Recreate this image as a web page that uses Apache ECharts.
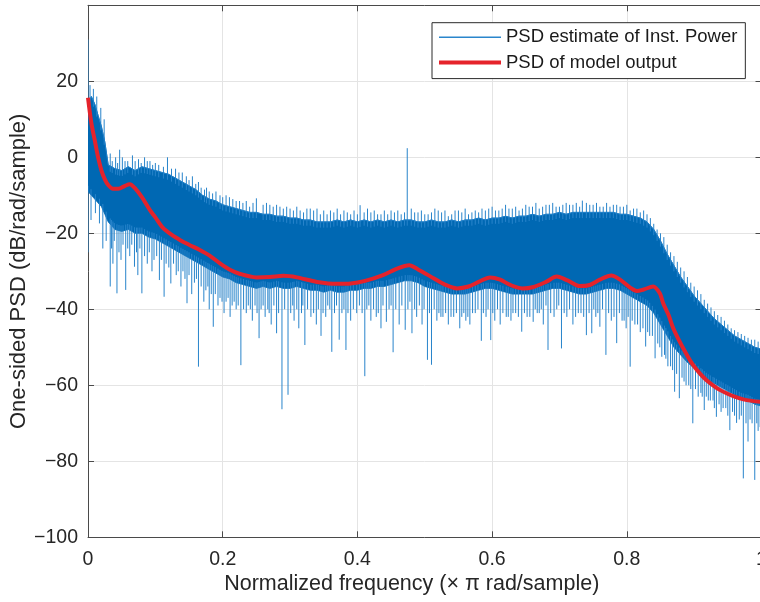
<!DOCTYPE html>
<html><head><meta charset="utf-8">
<script src="https://cdn.jsdelivr.net/npm/echarts@6/dist/echarts.min.js"></script>
<style>html,body{margin:0;padding:0;background:#fff}#c{width:760px;height:602px}</style>
</head><body><div id="c"></div>
<script>
// ---- data ----
const bandFreq = [0,0.005,0.01,0.015,0.02,0.025,0.03,0.04,0.05,0.06,0.07,0.08,0.09,0.10,0.11,0.12,0.13,0.14,0.15,0.16,0.17,0.18,0.19,0.20,0.21,0.22,0.23,0.24,0.25,0.26,0.27,0.28,0.29,0.30,0.31,0.32,0.33,0.34,0.35,0.36,0.37,0.38,0.39,0.40,0.41,0.42,0.43,0.44,0.45,0.46,0.47,0.48,0.49,0.50,0.51,0.52,0.53,0.54,0.55,0.56,0.57,0.58,0.59,0.60,0.61,0.62,0.63,0.64,0.65,0.66,0.67,0.68,0.69,0.70,0.71,0.72,0.73,0.74,0.75,0.76,0.77,0.78,0.79,0.80,0.81,0.82,0.83,0.84,0.85,0.86,0.87,0.88,0.89,0.90,0.91,0.92,0.93,0.94,0.95,0.96,0.97,0.98,0.99,1.00];
const bandTop = [14,16,14,11,8,4,-2,-3,-3.5,-2.5,-3.5,-2.5,-3,-3.5,-4,-4.5,-5.5,-6.5,-7.5,-8.5,-10,-11,-11.5,-12.5,-13,-13.5,-14,-14.5,-14.5,-15,-15,-15.5,-15.5,-16,-16,-16.5,-16.5,-17,-17,-17,-16.5,-17,-16.5,-17,-16.5,-17,-16.5,-17,-16.5,-17,-16.5,-16.5,-17,-17,-16.5,-17,-17,-16.5,-17,-16.5,-16.5,-16,-16.5,-16,-16,-15.5,-16,-15.5,-15.5,-15,-15.5,-15,-15,-14.5,-15,-14.5,-14.5,-14.5,-14.5,-14.5,-14.5,-14.5,-15,-15,-15.5,-16,-17,-19,-22,-25.5,-28.5,-31.5,-34,-36.5,-38.5,-40.5,-42.5,-44,-45.5,-47,-48,-49,-50,-50.5];
const bandBottom = [-9,-10,-11,-12,-13,-15,-17,-19,-19.5,-19,-20,-20,-21,-21.5,-22.5,-23.5,-24.5,-25.5,-26.5,-27.5,-28.5,-29.5,-30.5,-31.5,-32,-33,-33.5,-34,-34.5,-34,-34.5,-34,-34.5,-34.5,-34,-34.5,-35,-35,-35.5,-35,-35.5,-35.5,-35,-35,-34.5,-34.5,-34,-34,-33.5,-33,-32.5,-32.5,-33,-34,-34.5,-35,-35.5,-36,-36,-36,-35.5,-35,-34.5,-34.5,-35,-35.5,-36,-36,-36,-36,-35.5,-35,-34.5,-34.5,-35,-35.5,-36,-36,-35.5,-35,-34.5,-34.5,-35,-36,-37,-38,-39,-41,-44,-47,-50,-52,-54,-55.5,-57,-58.5,-59.5,-60.5,-61.5,-62.5,-63.5,-64,-65,-65.5];
const spikesDown = [[0.0,-25],[0.0045,-16.5],[0.011,-14.7],[0.017,-17.4],[0.022,-24],[0.027,-22],[0.033,-34],[0.037,-28],[0.043,-35.8],[0.049,-27],[0.056,-34.9],[0.062,-26],[0.069,-28.8],[0.074,-31],[0.080,-35.8],[0.088,-28],[0.095,-30],[0.106,-32.3],[0.113,-36.7],[0.123,-33.2],[0.131,-31],[0.138,-34],[0.147,-38.4],[0.154,-36],[0.164,-55.1],[0.172,-38],[0.180,-40],[0.186,-44.6],[0.193,-39],[0.202,-41],[0.211,-42],[0.220,-40],[0.227,-54.7],[0.235,-41],[0.244,-43],[0.254,-47.6],[0.263,-42],[0.272,-44],[0.280,-46.3],[0.288,-66.3],[0.297,-62.5],[0.306,-43],[0.313,-45],[0.322,-49.4],[0.331,-42],[0.339,-44],[0.346,-47],[0.353,-42],[0.362,-51.2],[0.373,-48],[0.383,-50.7],[0.390,-43],[0.399,-41],[0.411,-57.6],[0.420,-43],[0.428,-42],[0.435,-45],[0.443,-43.3],[0.453,-51.3],[0.462,-44],[0.471,-45.4],[0.481,-46.3],[0.488,-42],[0.496,-44],[0.504,-53.3],[0.510,-54.6],[0.518,-43],[0.527,-42],[0.535,-44],[0.543,-42],[0.552,-45],[0.561,-43],[0.567,-44],[0.575,-41],[0.584,-48.3],[0.591,-42],[0.598,-48.1],[0.604,-43],[0.612,-44],[0.621,-42],[0.628,-43],[0.635,-41],[0.644,-45.9],[0.652,-42],[0.661,-43.3],[0.670,-41],[0.676,-44],[0.683,-50.7],[0.692,-42],[0.703,-50.3],[0.711,-42],[0.720,-44],[0.728,-41],[0.740,-46.8],[0.748,-46.3],[0.754,-42],[0.760,-44.6],[0.769,-52],[0.777,-43],[0.785,-48.9],[0.793,-43],[0.799,-45],[0.805,-55.1],[0.812,-44],[0.820,-46],[0.828,-49.8],[0.834,-47],[0.842,-52.9],[0.852,-52.5],[0.861,-55],[0.871,-61.7],[0.878,-63.4],[0.888,-60],[0.898,-70],[0.906,-63],[0.915,-66.5],[0.924,-64],[0.933,-68.3],[0.943,-66],[0.953,-71.8],[0.963,-69.9],[0.973,-84.5],[0.980,-74.8],[0.986,-70],[0.990,-84.9],[0.995,-72],
[0.035,-24],[0.039,-22],[0.046,-25],[0.052,-23],[0.059,-24],[0.065,-23],[0.072,-25],[0.077,-24],[0.084,-26],[0.091,-25],[0.098,-27],[0.102,-26],[0.109,-27],[0.116,-28],[0.120,-29],[0.127,-28],[0.134,-30],[0.141,-30],[0.144,-32],[0.150,-31],[0.158,-33],[0.161,-32],[0.168,-34],[0.175,-35],[0.178,-34],[0.183,-36],[0.189,-36],[0.196,-37],[0.199,-38],[0.205,-38],[0.208,-37],[0.214,-39],[0.217,-38],[0.223,-39],[0.231,-40],[0.238,-39],[0.241,-40],[0.248,-39],[0.251,-41],[0.257,-40],[0.260,-39],[0.267,-40],[0.269,-41],[0.276,-39],[0.283,-41],[0.292,-40],[0.301,-41],[0.304,-39],[0.310,-40],[0.317,-41],[0.319,-39],[0.326,-40],[0.335,-41],[0.342,-40],[0.349,-41],[0.356,-39],[0.359,-40],[0.366,-41],[0.369,-39],[0.377,-41],[0.380,-40],[0.386,-41],[0.394,-40],[0.403,-39],[0.407,-41],[0.414,-40],[0.417,-39],[0.424,-40],[0.431,-41],[0.438,-39],[0.447,-40],[0.450,-39],[0.457,-40],[0.466,-39],[0.475,-40],[0.478,-38],[0.485,-40],[0.492,-39],[0.499,-40],[0.507,-41],[0.514,-40],[0.521,-41],[0.524,-42],[0.531,-41],[0.539,-42],[0.547,-41],[0.555,-42],[0.558,-41],[0.564,-42],[0.571,-41],[0.579,-40],[0.587,-41],[0.594,-40],[0.601,-41],[0.608,-40],[0.616,-41],[0.624,-42],[0.631,-41],[0.639,-42],[0.648,-41],[0.656,-42],[0.664,-40],[0.667,-41],[0.673,-40],[0.680,-39],[0.687,-41],[0.696,-40],[0.699,-39],[0.707,-41],[0.715,-40],[0.724,-42],[0.732,-41],[0.736,-42],[0.744,-41],[0.751,-40],[0.757,-41],[0.764,-40],[0.773,-41],[0.781,-42],[0.789,-41],[0.796,-43],[0.802,-42],[0.808,-43],[0.816,-44],[0.824,-45],[0.831,-46],[0.838,-47],[0.846,-49],[0.849,-50],[0.856,-52],[0.858,-53],[0.865,-55],[0.868,-56],[0.874,-57],[0.882,-58],[0.885,-59],[0.892,-60],[0.895,-61],[0.902,-61],[0.910,-62],[0.912,-63],[0.918,-63],[0.921,-64],[0.928,-64],[0.930,-66],[0.937,-65],[0.940,-67],[0.947,-66],[0.950,-68],[0.957,-67],[0.960,-68],[0.967,-69],[0.970,-68],[0.977,-70],[0.983,-69],[0.993,-70],[0.998,-71]];
const spikesUp = [[0.0,31],[0.003,19],[0.008,18],[0.013,16],[0.019,13],[0.024,10],[0.033,1],[0.041,0],[0.047,2],[0.055,-1],[0.066,0.5],[0.075,-0.5],[0.084,0],[0.092,-1],[0.100,-1.5],[0.118,0],[0.130,-3],[0.140,-4],[0.155,-5],[0.168,-8],[0.180,-9],[0.196,-10],[0.210,-10.5],[0.225,-11.5],[0.240,-13],[0.250,-10.8],[0.270,-12.5],[0.285,-13],[0.300,-13.5],[0.315,-14],[0.330,-13.5],[0.345,-15],[0.360,-14],[0.375,-15],[0.390,-15],[0.404,-12.6],[0.420,-14.5],[0.435,-15],[0.450,-14],[0.465,-15],[0.474,2.4],[0.490,-14.5],[0.505,-15],[0.520,-14],[0.535,-15.5],[0.550,-14],[0.565,-15],[0.580,-14.5],[0.595,-13.5],[0.610,-14],[0.625,-13.5],[0.640,-14],[0.655,-13],[0.670,-13.5],[0.685,-12.5],[0.700,-13],[0.715,-12.5],[0.734,-11.4],[0.750,-12.5],[0.765,-13],[0.780,-12.5],[0.795,-13],[0.810,-13.5],[0.825,-14],[0.835,-16],[0.845,-19],[0.855,-21],[0.865,-25],[0.875,-27.5],[0.885,-30],[0.895,-33],[0.905,-35],[0.915,-37.5],[0.925,-39.5],[0.935,-41.5],[0.945,-43],[0.955,-45],[0.965,-46],[0.975,-47],[0.985,-48],[0.995,-48.5],
[0.036,-1],[0.044,-1.5],[0.051,0],[0.059,-1],[0.070,-1],[0.079,-1.5],[0.088,-1],[0.096,-2],[0.105,-2],[0.112,-2.5],[0.124,-3],[0.135,-4],[0.146,-5],[0.150,-6],[0.160,-7],[0.164,-6.5],[0.173,-8.5],[0.176,-8],[0.185,-9.5],[0.190,-9],[0.200,-10.5],[0.205,-10],[0.215,-11],[0.220,-11.5],[0.230,-12],[0.235,-11.5],[0.245,-12],[0.260,-12.5],[0.265,-12],[0.275,-13],[0.280,-12.5],[0.290,-13.5],[0.295,-13],[0.305,-14],[0.310,-13],[0.320,-14.5],[0.325,-13.5],[0.335,-14],[0.340,-13.5],[0.350,-14],[0.355,-15],[0.365,-14.5],[0.370,-13.5],[0.380,-14],[0.385,-14.5],[0.395,-14],[0.400,-15],[0.410,-14.5],[0.415,-13.5],[0.425,-14],[0.430,-15],[0.440,-14],[0.445,-15],[0.455,-14.5],[0.460,-14],[0.470,-14.5],[0.480,-13.5],[0.485,-14.5],[0.495,-14],[0.500,-15],[0.510,-14.5],[0.515,-13.5],[0.525,-14.5],[0.530,-14],[0.540,-15],[0.545,-14],[0.555,-14.5],[0.560,-13.5],[0.570,-14.5],[0.575,-14],[0.585,-13.5],[0.590,-14],[0.600,-13],[0.605,-14],[0.615,-13.5],[0.620,-12.5],[0.630,-13.5],[0.635,-13],[0.645,-13.5],[0.650,-12.5],[0.660,-13],[0.665,-12],[0.675,-13],[0.680,-12.5],[0.690,-12],[0.695,-13],[0.705,-12.5],[0.710,-12],[0.720,-12.5],[0.725,-12],[0.730,-13],[0.740,-12],[0.745,-12.5],[0.755,-12],[0.760,-13],[0.770,-12],[0.775,-13],[0.785,-12.5],[0.790,-13],[0.800,-12.5],[0.805,-14],[0.815,-13.5],[0.820,-14.5],[0.830,-15],[0.840,-17.5],[0.850,-20],[0.860,-23],[0.870,-26],[0.880,-29],[0.890,-31.5],[0.900,-34],[0.910,-36],[0.920,-38.5],[0.930,-40.5],[0.940,-42],[0.950,-44],[0.960,-45.5],[0.970,-46.5],[0.980,-47.5],[0.990,-48]];
const modelFreq = [0,0.005,0.01,0.015,0.02,0.025,0.03,0.037,0.045,0.055,0.062,0.07,0.08,0.092,0.10,0.111,0.125,0.137,0.15,0.166,0.18,0.196,0.21,0.226,0.25,0.27,0.29,0.31,0.34,0.37,0.39,0.41,0.438,0.46,0.477,0.49,0.513,0.53,0.548,0.565,0.58,0.597,0.612,0.627,0.645,0.66,0.68,0.696,0.712,0.73,0.745,0.76,0.777,0.79,0.805,0.815,0.825,0.839,0.849,0.854,0.862,0.869,0.877,0.886,0.897,0.909,0.918,0.928,0.938,0.948,0.96,0.973,0.986,1.0];
const modelPsd = [15.7,9,4.5,0,-3.5,-5.8,-7.3,-8.3,-8.3,-7.5,-7.1,-8.2,-10.5,-13.9,-15.8,-18.5,-20.5,-21.8,-23,-24.4,-25.8,-27.9,-29.5,-30.7,-31.6,-31.5,-31.2,-31.6,-32.8,-33.3,-33.2,-32.6,-31,-29.2,-28.4,-29.5,-31.8,-33.5,-34.5,-34,-32.8,-31.6,-32.2,-33.6,-34.5,-34.2,-32.8,-31.4,-32.4,-33.9,-33.6,-32.2,-31.1,-32.2,-34.3,-35.2,-34.8,-34.0,-35.8,-38.4,-41.5,-45,-48,-51,-54.3,-57,-58.6,-60,-61.2,-62.1,-63,-63.7,-64.1,-64.4];
const xTicks = [0, 0.2, 0.4, 0.6, 0.8, 1];
const yTicks = [-100, -80, -60, -40, -20, 0, 20, 40];

// ---- rendering ----
const FONT = '"Liberation Sans", Arial, Helvetica, sans-serif';
const BLUE = '#0068b3';
const SPIKE = '#2884cb';
const RED = '#e5232b';
function edgeAt(arr, f) {
  for (let i = 1; i < bandFreq.length; i++) {
    if (f <= bandFreq[i]) {
      const t = (f - bandFreq[i-1]) / (bandFreq[i] - bandFreq[i-1]);
      return arr[i-1] + t * (arr[i] - arr[i-1]);
    }
  }
  return arr[arr.length-1];
}
const spikeData = spikesDown.map(d => [d[0], d[1], edgeAt(bandBottom, d[0]) + 1.5])
  .concat(spikesUp.map(d => [d[0], d[1], edgeAt(bandTop, d[0]) - 1.5]));
const bandData = bandFreq.map((f, i) => [f, bandTop[i], bandBottom[i]]);

const chart = echarts.init(document.getElementById('c'), null, {renderer: 'canvas'});
const minus = v => (v < 0 ? '\u2212' + Math.abs(v) : String(v));
const axisLineStyle = {color: '#4a4a4a', width: 1};
chart.setOption({
  animation: false,
  backgroundColor: '#ffffff',
  textStyle: {fontFamily: FONT},
  grid: {left: 88, top: 5.3, width: 673.5, height: 532, containLabel: false, outerBoundsMode: 'none'},
  legend: {
    orient: 'vertical', left: 432, top: 22.7,
    padding: [5, 8, 6.5, 7], itemWidth: 62, itemHeight: 14, itemGap: 6.4,
    backgroundColor: '#ffffff', borderColor: '#2b2b2b', borderWidth: 1, borderRadius: 0,
    textStyle: {fontSize: 18.5, lineHeight: 19, color: '#1a1a1a', fontFamily: FONT},
    data: [
      {name: 'PSD estimate of Inst. Power', icon: 'path://M0,0L62,0L62,1.4L0,1.4Z', itemStyle: {color: '#2a86cc'}},
      {name: 'PSD of model output', icon: 'path://M0,0L62,0L62,4L0,4Z', itemStyle: {color: RED}}
    ]
  },
  xAxis: [{
    type: 'value', min: xTicks[0], max: xTicks[xTicks.length-1], interval: 0.2,
    name: 'Normalized frequency (\u00d7 \u03c0 rad/sample)', nameLocation: 'middle', nameGap: 36, nameMoveOverlap: false,
    nameTextStyle: {fontSize: 21.5, color: '#262626', fontFamily: FONT, padding: [0, 26, 0, 0]},
    axisLine: {show: true, onZero: false, lineStyle: axisLineStyle},
    axisTick: {show: true, inside: true, length: 6, lineStyle: axisLineStyle},
    axisLabel: {fontSize: 19.5, color: '#262626', margin: 12, fontFamily: FONT, formatter: v => String(v)},
    splitLine: {show: true, lineStyle: {color: '#e4e4e4', width: 1}}
  }, {
    type: 'value', position: 'top', min: 0, max: 1, interval: 0.2,
    axisLine: {show: true, onZero: false, lineStyle: axisLineStyle},
    axisTick: {show: true, inside: true, length: 6, lineStyle: axisLineStyle},
    axisLabel: {show: false}, splitLine: {show: false}
  }],
  yAxis: [{
    type: 'value', min: yTicks[0], max: yTicks[yTicks.length-1], interval: 20,
    name: 'One-sided PSD (dB/rad/sample)', nameLocation: 'middle', nameGap: 58, nameRotate: 90, nameMoveOverlap: false,
    nameTextStyle: {fontSize: 22, color: '#262626', fontFamily: FONT},
    axisLine: {show: true, onZero: false, lineStyle: axisLineStyle},
    axisTick: {show: true, inside: true, length: 6, lineStyle: axisLineStyle},
    axisLabel: {fontSize: 19.5, color: '#262626', margin: 10, fontFamily: FONT, showMaxLabel: false, formatter: minus},
    splitLine: {show: true, lineStyle: {color: '#e4e4e4', width: 1}}
  }, {
    type: 'value', position: 'right', min: -100, max: 40, interval: 20,
    axisLine: {show: true, onZero: false, lineStyle: axisLineStyle},
    axisTick: {show: true, inside: true, length: 6, lineStyle: axisLineStyle},
    axisLabel: {show: false}, splitLine: {show: false}
  }],
  series: [
    {
      name: '_band', type: 'custom', silent: true, clip: true, z: 2,
      encode: {x: 0, y: [1, 2]},
      data: bandData,
      renderItem: function (params, api) {
        if (params.dataIndex !== 0) return null;
        const pts = [];
        for (let i = 0; i < bandData.length; i++) pts.push(api.coord([bandData[i][0], bandData[i][1]]));
        for (let i = bandData.length - 1; i >= 0; i--) pts.push(api.coord([bandData[i][0], bandData[i][2]]));
        return {type: 'polygon', shape: {points: pts}, style: {fill: BLUE, stroke: BLUE, lineWidth: 0.8}};
      }
    },
    {
      name: 'PSD estimate of Inst. Power', type: 'line', symbol: 'none', silent: true, z: 3,
      lineStyle: {width: 1, color: '#1f7fc8'}, itemStyle: {color: '#1f7fc8'},
      data: bandFreq.map((f, i) => [f, bandTop[i]])
    },
    {
      name: '_spikes', type: 'custom', silent: true, clip: true, z: 3,
      encode: {x: 0, y: [1, 2]},
      data: spikeData,
      renderItem: function (params, api) {
        const a = api.coord([api.value(0), api.value(2)]);
        const b = api.coord([api.value(0), api.value(1)]);
        return {type: 'line', shape: {x1: a[0], y1: a[1], x2: b[0], y2: b[1]},
                style: {stroke: SPIKE, lineWidth: 1}};
      }
    },
    {
      name: 'PSD of model output', type: 'line', symbol: 'none', smooth: 0.3, silent: true,
      lineStyle: {width: 4, color: RED}, itemStyle: {color: RED},
      data: modelFreq.map((f, i) => [f, modelPsd[i]]), z: 5
    }
  ]
});
</script>
</body></html>
